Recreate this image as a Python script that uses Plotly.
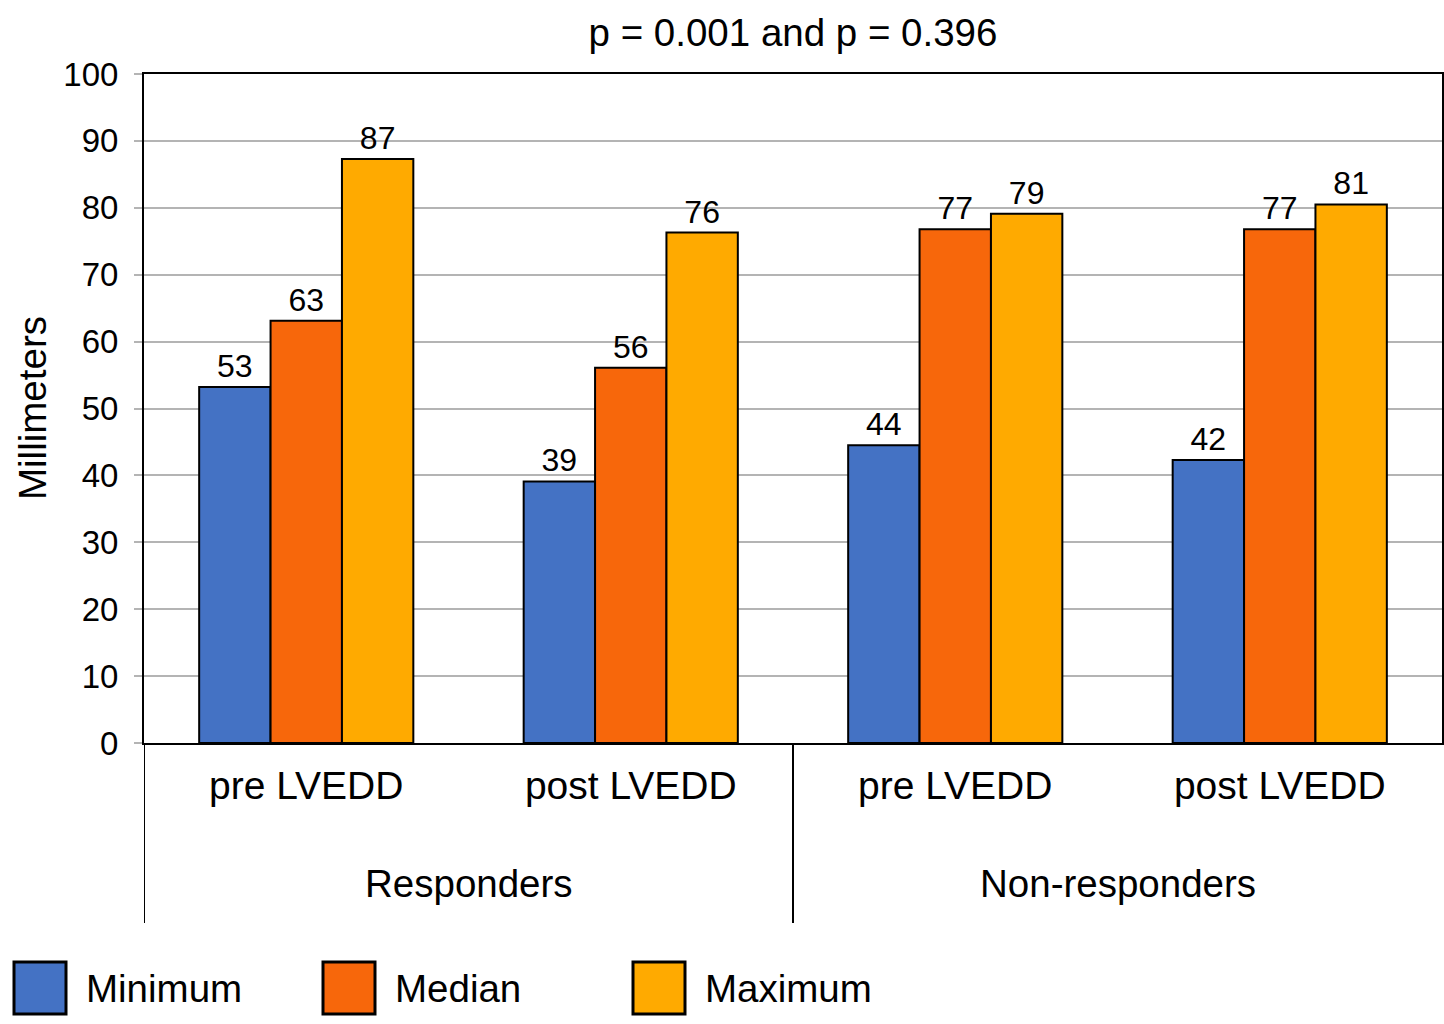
import plotly.graph_objects as go

# ---- data ----
groups = ["Responders", "Non-responders"]
categories = ["pre LVEDD", "post LVEDD", "pre LVEDD", "post LVEDD"]
series_names = ["Minimum", "Median", "Maximum"]
minimum = [53.2, 39.1, 44.5, 42.3]
median = [63.1, 56.1, 76.8, 76.8]
maximum = [87.3, 76.3, 79.1, 80.5]
minimum_labels = ["53", "39", "44", "42"]
median_labels = ["63", "56", "77", "77"]
maximum_labels = ["87", "76", "79", "81"]
y_ticks = [0, 10, 20, 30, 40, 50, 60, 70, 80, 90, 100]
title_text = "p = 0.001 and p = 0.396"
y_title = "Millimeters"

colors = ["#4472C4", "#F7670B", "#FFAA00"]
FONT = "Liberation Sans Narrow, Arial Narrow, Liberation Sans, Arial, sans-serif"

# body margin is removed in the page, so the figure fills the window from (0, 0)
OFF = 0
W, H = 1444, 1024
ML, MR, MT = 144 - OFF, 2, 74 - OFF
PLOT_BOTTOM = 743 - OFF
MB = H - PLOT_BOTTOM
PW, PH = W - ML - MR, H - MT - MB

def px_x(p):  # screen px -> paper
    return (p - OFF - ML) / PW

def px_y(p):
    return (PLOT_BOTTOM - (p - OFF)) / PH

xpos = list(range(len(categories)))

fig = go.Figure()
for name, vals, labels, col in zip(series_names, [minimum, median, maximum],
                                   [minimum_labels, median_labels, maximum_labels], colors):
    fig.add_trace(go.Bar(
        x=xpos, y=vals, name=name, text=labels, textposition="outside",
        textfont=dict(family=FONT, size=32, color="black"),
        marker=dict(color=col, line=dict(color="black", width=2)),
        cliponaxis=False, showlegend=False,
    ))

fig.update_layout(
    width=W, height=H,
    margin=dict(l=ML, r=MR, t=MT, b=MB, autoexpand=False),
    paper_bgcolor="white", plot_bgcolor="white",
    barmode="group", bargap=0.34, bargroupgap=0,
    font=dict(family=FONT, color="black"),
    title=dict(text=title_text, x=0.5, xref="paper", y=1 - (33 - OFF) / H, yref="container",
               yanchor="middle", xanchor="center",
               font=dict(family=FONT, size=38.5, color="black")),
)

fig.update_xaxes(
    tickmode="array", tickvals=xpos, ticktext=categories,
    range=[-0.5, len(categories) - 0.5],
    showline=True, linecolor="black", linewidth=2, mirror=True,
    showgrid=False, ticks="", zeroline=False,
    tickfont=dict(family=FONT, size=39, color="black"),
    ticklabelstandoff=7,
)
fig.update_yaxes(
    range=[0, 100], tickmode="array", tickvals=y_ticks,
    showline=True, linecolor="black", linewidth=2, mirror=True,
    showgrid=True, gridcolor="#B4B4B4", gridwidth=2,
    ticks="outside", ticklen=8, tickcolor="#B4B4B4", tickwidth=2,
    zeroline=False,
    tickfont=dict(family=FONT, size=33, color="black"),
    ticklabelstandoff=9,
)

# y axis title
fig.add_annotation(text=y_title, textangle=-90, xref="paper", yref="paper",
                   x=px_x(32), y=px_y(408), xanchor="center", yanchor="middle",
                   showarrow=False, font=dict(family=FONT, size=38.5, color="black"))

# group labels and dividers
for gi, g in enumerate(groups):
    fig.add_annotation(text=g, xref="x", yref="paper", x=gi * 2 + 0.5, y=px_y(883),
                       xanchor="center", yanchor="middle", showarrow=False,
                       font=dict(family=FONT, size=38.5, color="black"))
    fig.add_shape(type="line", xref="x", yref="paper", x0=gi * 2 - 0.5, x1=gi * 2 - 0.5,
                  y0=0, y1=px_y(923), line=dict(color="black", width=2))

# legend (drawn manually for large swatches)
legend_box_left = [14, 323, 633]
for name, col, bx in zip(series_names, colors, legend_box_left):
    fig.add_shape(type="rect", xref="paper", yref="paper",
                  x0=px_x(bx), x1=px_x(bx + 52), y0=px_y(1014), y1=px_y(962),
                  fillcolor=col, line=dict(color="black", width=3))
    fig.add_annotation(text=name, xref="paper", yref="paper", x=px_x(bx + 70), y=px_y(988),
                       xanchor="left", yanchor="middle", showarrow=False,
                       font=dict(family=FONT, size=38.5, color="black"))

fig.write_html(
    "out.html",
    config={"displayModeBar": False},
    post_script="document.body.style.margin='0';document.body.style.overflow='hidden';",
)
